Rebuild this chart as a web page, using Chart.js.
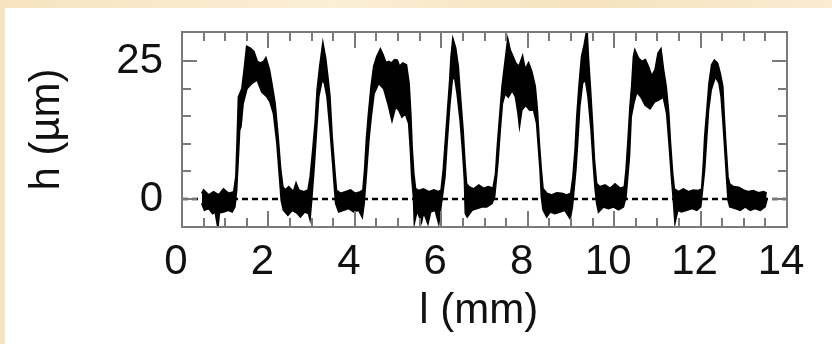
<!DOCTYPE html>
<html>
<head>
<meta charset="utf-8">
<script src="https://cdn.jsdelivr.net/npm/chart.js@4"></script>
<style>
  html, body { margin: 0; padding: 0; }
  body {
    width: 832px; height: 344px; overflow: hidden; position: relative;
    background: linear-gradient(90deg, #f7e3bf, #fbefd6 40%, #f6e2bd 70%, #faecd2);
  }
  #panel { position: absolute; left: 5px; top: 8px; right: 0; bottom: 0; background: #fff; }
  #profile { position: absolute; left: 0; top: 0; }
</style>
</head>
<body>
<div id="panel"></div>
<canvas id="profile" width="832" height="344"></canvas>
<script>
// ====================== //
// PROFILE DATA           //
// ====================== //

// [l (mm), h (µm)] - top edge of the noisy trace
const upperEdge = [
    [0.46, 1.0], [0.50, 1.6], [0.62, 0.7], [0.73, 1.3], [0.85, 0.7], [0.96, 1.8], [1.08, 1.0], [1.20, 1.3],
    [1.25, 4.0], [1.28, 10.7], [1.31, 18.5], [1.39, 20.0], [1.45, 24.0], [1.50, 27.6], [1.58, 27.3], [1.66, 26.7],
    [1.74, 24.9], [1.81, 24.6], [1.89, 24.9], [1.94, 25.5], [2.02, 23.4], [2.08, 20.7], [2.15, 17.3], [2.22, 11.3],
    [2.28, 5.3], [2.33, 2.2],
    [2.39, 1.6], [2.47, 2.2], [2.58, 1.3], [2.64, 2.8], [2.70, 1.6], [2.82, 1.3], [2.92, 1.6],
    [2.97, 4.0], [3.03, 8.9], [3.09, 14.3], [3.13, 19.7], [3.19, 24.0], [3.26, 28.1], [3.32, 25.5], [3.37, 22.2],
    [3.42, 18.5], [3.47, 11.3], [3.53, 5.3], [3.57, 1.6],
    [3.67, 1.0], [3.78, 1.3], [3.90, 1.6], [4.01, 1.0], [4.13, 1.3], [4.19, 1.6],
    [4.23, 5.3], [4.27, 10.7], [4.32, 15.5], [4.38, 20.4], [4.44, 24.0], [4.51, 25.8], [4.59, 27.1], [4.65, 26.1],
    [4.72, 24.6], [4.78, 24.9], [4.85, 24.6], [4.92, 25.2], [4.98, 25.1], [5.03, 24.0], [5.11, 24.6], [5.19, 24.3],
    [5.25, 21.0], [5.29, 15.5], [5.32, 9.5], [5.36, 4.6], [5.40, 1.9],
    [5.48, 1.5], [5.59, 1.8], [5.71, 1.3], [5.83, 1.6], [5.94, 1.3], [6.00, 1.6],
    [6.05, 5.3], [6.10, 10.7], [6.15, 16.1], [6.20, 21.6], [6.23, 25.8], [6.27, 28.9], [6.33, 27.3], [6.39, 24.0],
    [6.44, 18.5], [6.50, 12.5], [6.54, 7.1], [6.58, 2.8],
    [6.64, 2.2], [6.75, 1.8], [6.87, 2.5], [6.98, 1.9], [7.09, 2.2], [7.20, 1.9],
    [7.26, 4.6], [7.30, 9.5], [7.36, 15.5], [7.41, 20.4], [7.475, 24.6], [7.54, 28.8], [7.59, 27.0], [7.64, 26.1],
    [7.72, 24.6], [7.80, 24.0], [7.88, 25.8], [7.94, 23.4], [8.02, 24.6], [8.09, 23.1], [8.17, 20.4], [8.22, 16.1],
    [8.26, 10.7], [8.31, 5.3], [8.35, 1.9],
    [8.44, 1.0], [8.556, 0.7], [8.67, 1.1], [8.79, 1.0], [8.90, 0.7], [9.00, 1.0],
    [9.05, 4.0], [9.10, 8.9], [9.14, 14.9], [9.19, 20.4], [9.25, 25.8], [9.31, 27.9], [9.37, 30.5], [9.40, 25.8],
    [9.45, 19.7], [9.50, 13.1], [9.54, 7.1], [9.59, 2.8],
    [9.67, 2.2], [9.79, 2.5], [9.91, 1.9], [10.02, 2.7], [10.14, 1.9], [10.24, 2.2],
    [10.28, 5.3], [10.33, 11.3], [10.37, 16.7], [10.41, 20.4], [10.45, 25.8], [10.48, 26.9], [10.56, 25.5], [10.64, 24.9],
    [10.72, 25.2], [10.79, 24.0], [10.87, 22.2], [10.95, 23.4], [11.02, 26.4], [11.08, 27.1], [11.14, 23.4], [11.20, 20.4],
    [11.26, 15.5], [11.30, 10.1], [11.35, 4.6], [11.39, 1.8],
    [11.49, 1.3], [11.60, 1.8], [11.72, 1.3], [11.83, 1.6], [11.95, 1.5], [12.03, 1.8],
    [12.07, 6.5], [12.10, 11.3], [12.15, 16.1], [12.20, 21.0], [12.26, 24.3], [12.32, 25.1], [12.39, 24.6], [12.45, 22.8],
    [12.51, 20.4], [12.54, 15.5], [12.58, 10.1], [12.63, 4.0], [12.67, 2.7],
    [12.76, 2.2], [12.88, 2.1], [12.99, 1.6], [13.11, 1.3], [13.22, 1.5], [13.34, 1.1], [13.46, 1.3], [13.53, 1.0]
];

// [l (mm), h (µm)] - bottom edge of the noisy trace
const lowerEdge = [
    [0.46, -0.8], [0.52, -2.0], [0.62, -1.7], [0.71, -2.6], [0.77, -2.3], [0.83, -5.0], [0.86, -2.5], [0.96, -2.3],
    [1.08, -2.0], [1.16, -2.3], [1.22, -1.4],
    [1.26, 1.6], [1.30, 7.7], [1.33, 12.5], [1.36, 13.1], [1.41, 17.3], [1.50, 20.0], [1.62, 21.0], [1.74, 21.6],
    [1.85, 19.4], [1.97, 18.5], [2.04, 17.6], [2.12, 15.5], [2.20, 10.1], [2.26, 4.0], [2.30, -0.2],
    [2.35, -2.0], [2.45, -2.9], [2.55, -2.0], [2.66, -2.5], [2.74, -3.2], [2.84, -2.3], [2.93, -2.6], [2.96, -3.5],
    [2.99, -0.8],
    [3.05, 5.3], [3.10, 11.3], [3.16, 18.5], [3.24, 21.6], [3.30, 21.0], [3.36, 18.5], [3.43, 12.5], [3.49, 6.5],
    [3.53, 2.2], [3.56, -0.8],
    [3.63, -2.3], [3.74, -2.0], [3.86, -1.7], [3.97, -2.3], [4.09, -2.0], [4.17, -3.2], [4.21, -0.8],
    [4.27, 5.3], [4.32, 10.7], [4.375, 14.9], [4.44, 19.1], [4.55, 21.0], [4.67, 20.0], [4.78, 17.0], [4.86, 14.3],
    [4.94, 16.7], [5.02, 16.1], [5.09, 14.9], [5.17, 15.5], [5.25, 13.7], [5.29, 8.9], [5.32, 4.0], [5.36, 0.4],
    [5.38, -4.1], [5.44, -2.0], [5.54, -4.1], [5.59, -2.3], [5.69, -4.4], [5.75, -2.3], [5.86, -2.0], [5.94, -4.3],
    [5.99, -1.4],
    [6.08, 4.0], [6.13, 10.1], [6.19, 16.7], [6.25, 21.6], [6.31, 22.2], [6.37, 19.1], [6.44, 14.3], [6.50, 8.3],
    [6.54, 3.4], [6.56, -2.6],
    [6.60, -3.2], [6.71, -2.0], [6.83, -1.7], [6.94, -1.4], [7.05, -1.4], [7.17, -0.8], [7.23, 0.4],
    [7.305, 6.5], [7.36, 12.5], [7.41, 17.3], [7.475, 19.1], [7.55, 18.5], [7.64, 19.7], [7.72, 18.5], [7.78, 15.5],
    [7.81, 13.4], [7.86, 16.1], [7.95, 17.0], [8.05, 16.1], [8.14, 16.1], [8.21, 13.7], [8.25, 9.5], [8.29, 5.3],
    [8.32, 0.4],
    [8.36, -2.0], [8.44, -3.2], [8.52, -2.3], [8.63, -2.6], [8.75, -2.3], [8.86, -2.0], [8.98, -3.5], [9.03, -1.4],
    [9.11, 5.3], [9.16, 11.3], [9.20, 16.7], [9.265, 21.0], [9.34, 21.6], [9.40, 18.5], [9.47, 12.5], [9.52, 6.5],
    [9.56, 2.2], [9.60, -0.8],
    [9.64, -2.3], [9.75, -1.4], [9.87, -1.7], [9.98, -1.4], [10.10, -1.9], [10.21, -1.4], [10.27, 0.4],
    [10.35, 7.7], [10.39, 14.9], [10.45, 17.3], [10.52, 19.4], [10.62, 18.5], [10.72, 17.0], [10.83, 16.4], [10.93, 17.6],
    [11.02, 17.9], [11.14, 18.5], [11.22, 15.5], [11.28, 9.5], [11.33, 4.0], [11.38, -0.8],
    [11.41, -4.1], [11.47, -2.0], [11.56, -2.3], [11.68, -2.0], [11.80, -1.7], [11.91, -2.0], [12.00, -1.4],
    [12.09, 5.3], [12.14, 11.3], [12.18, 16.1], [12.24, 19.7], [12.34, 22.2], [12.43, 21.0], [12.48, 18.5], [12.52, 14.3],
    [12.57, 8.3], [12.61, 3.4], [12.64, -0.2],
    [12.68, -1.4], [12.80, -1.7], [12.92, -2.0], [13.03, -1.4], [13.15, -2.0], [13.26, -1.7], [13.38, -2.0], [13.49, -1.4],
    [13.53, -0.2]
];

const zeroLine = [[0, 0], [14, 0]];

const xLabelTicks = [0, 2, 4, 6, 8, 10, 12, 14];
const yLabelTicks = [0, 25];

// ====================== //
// CHART                  //
// ====================== //

const toPoints = arr => arr.map(([l, h]) => ({ x: l, y: h }));

// inward tick marks on all four sides + gray frame
const frameTicks = {
    id: 'frameTicks',
    afterDatasetsDraw(chart) {
        const { ctx, chartArea: a, scales: { x, y } } = chart;
        ctx.save();
        ctx.strokeStyle = '#7a7a7a';
        ctx.lineWidth = 2;
        ctx.beginPath();
        x.ticks.forEach(t => {
            const px = Math.round(x.getPixelForValue(t.value));
            if (px <= a.left + 2 || px >= a.right - 2) return;
            const len = xLabelTicks.includes(t.value) ? 16 : 9;
            ctx.moveTo(px, a.bottom); ctx.lineTo(px, a.bottom - len);
            ctx.moveTo(px, a.top); ctx.lineTo(px, a.top + len);
        });
        y.ticks.forEach(t => {
            const py = Math.round(y.getPixelForValue(t.value));
            if (py <= a.top + 2 || py >= a.bottom - 2) return;
            const len = yLabelTicks.includes(t.value) ? 15 : 9;
            ctx.moveTo(a.left, py); ctx.lineTo(a.left + len, py);
            ctx.moveTo(a.right, py); ctx.lineTo(a.right - len, py);
        });
        ctx.stroke();
        ctx.strokeRect(a.left, a.top, a.right - a.left, a.bottom - a.top);
        ctx.restore();
    }
};

const font = { family: '"Liberation Sans", Arial, sans-serif', size: 42 };

new Chart(document.getElementById('profile'), {
    type: 'scatter',
    data: {
        datasets: [
            {
                data: toPoints(upperEdge),
                showLine: true,
                borderColor: '#000',
                backgroundColor: '#000',
                borderWidth: 2,
                pointRadius: 0,
                tension: 0,
                fill: '+1'
            },
            {
                data: toPoints(lowerEdge),
                showLine: true,
                borderColor: '#000',
                borderWidth: 2,
                pointRadius: 0,
                tension: 0,
                fill: false
            },
            {
                data: toPoints(zeroLine),
                showLine: true,
                borderColor: '#000',
                borderWidth: 2.5,
                borderDash: [6, 4],
                pointRadius: 0,
                fill: false
            }
        ]
    },
    options: {
        responsive: false,
        animation: false,
        events: [],
        layout: { padding: { left: 0, right: 45, top: 32, bottom: 0 } },
        plugins: {
            legend: { display: false },
            tooltip: { enabled: false }
        },
        scales: {
            x: {
                type: 'linear',
                position: 'bottom',
                min: 0,
                max: 14,
                grid: { display: false, drawTicks: false },
                border: { display: false },
                ticks: {
                    stepSize: 0.5,
                    autoSkip: false,
                    maxRotation: 0,
                    padding: 10,
                    labelOffset: -6,
                    color: '#111',
                    font: font,
                    callback: v => xLabelTicks.includes(v) ? String(v) : ''
                },
                title: {
                    display: true,
                    text: 'l (mm) ',
                    color: '#111',
                    font: font,
                    padding: { top: 0, bottom: 7 }
                },
                afterFit: scale => {
                    scale.height = 117;
                    scale.paddingLeft = 0;
                    scale.paddingRight = 0;
                }
            },
            y: {
                type: 'linear',
                min: -5.07,
                max: 30.25,
                grid: { display: false, drawTicks: false },
                border: { display: false },
                ticks: {
                    stepSize: 5,
                    autoSkip: false,
                    includeBounds: false,
                    padding: 19,
                    color: '#111',
                    font: font,
                    callback: v => yLabelTicks.includes(v) ? String(v) : ''
                },
                title: {
                    display: true,
                    text: 'h (µm)',
                    color: '#111',
                    font: font,
                    padding: { top: 22, bottom: 0 }
                },
                afterFit: scale => {
                    scale.width = 182;
                    scale.paddingTop = 0;
                    scale.paddingBottom = 0;
                }
            }
        }
    },
    plugins: [frameTicks]
});
</script>
</body>
</html>
